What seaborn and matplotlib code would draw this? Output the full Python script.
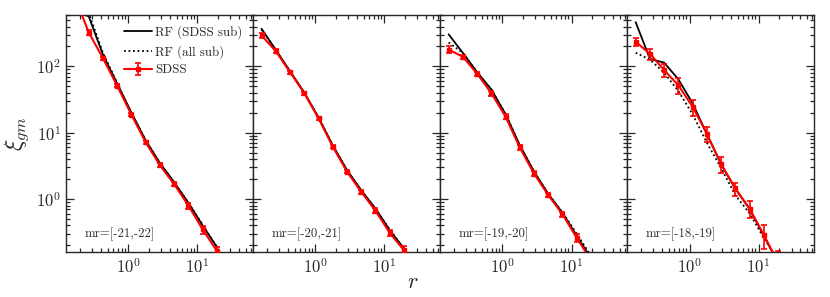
import numpy as np
import matplotlib
matplotlib.use("Agg")
import matplotlib.pyplot as plt
import seaborn as sns

# radial bins
r = [0.166, 0.267, 0.429, 0.69, 1.11, 1.78, 2.86, 4.6, 7.4, 11.9, 19.1]

labels = ["mr=[-21,-22]", "mr=[-20,-21]", "mr=[-19,-20]", "mr=[-18,-19]"]

sdss = [
    [1150, 325, 133, 51, 18.7, 7.2, 3.25, 1.68, 0.80, 0.35, 0.166],
    [293, 170, 82, 39.5, 16.5, 6.2, 2.6, 1.29, 0.67, 0.31, 0.17],
    [180, 140, 78, 39.5, 17.5, 6.0, 2.43, 1.15, 0.59, 0.26, 0.12],
    [236, 155, 88, 52, 24.6, 9.7, 3.4, 1.45, 0.72, 0.29, 0.11],
]
# relative errors
sdss_err = [
    [0.10, 0.09, 0.06, 0.05, 0.05, 0.05, 0.06, 0.07, 0.10, 0.14, 0.15],
    [0.08, 0.06, 0.05, 0.05, 0.05, 0.05, 0.05, 0.06, 0.08, 0.12, 0.14],
    [0.12, 0.08, 0.07, 0.08, 0.08, 0.08, 0.08, 0.08, 0.10, 0.14, 0.18],
    [0.15, 0.19, 0.22, 0.27, 0.28, 0.26, 0.28, 0.22, 0.29, 0.40, 0.50],
]
rf_sdss_sub = [
    [680, 570, 150, 55, 20, 7.7, 3.5, 1.8, 0.88, 0.40, 0.19],
    [370, 178, 85, 40.5, 17, 6.5, 2.75, 1.36, 0.72, 0.34, 0.18],
    [305, 160, 82, 45, 19, 6.5, 2.6, 1.2, 0.62, 0.28, 0.13],
    [465, 130, 114, 64, 27.7, 9.6, 3.35, 1.43, 0.71, 0.28, 0.11],
]
rf_all_sub = [
    [720, 640, 160, 56, 20, 7.7, 3.5, 1.8, 0.88, 0.41, 0.19],
    [360, 176, 84, 40, 17, 6.5, 2.75, 1.36, 0.72, 0.35, 0.18],
    [230, 160, 82, 45, 19, 6.5, 2.6, 1.2, 0.63, 0.30, 0.14],
    [161, 127, 80, 42.5, 18.9, 7.1, 2.95, 1.15, 0.61, 0.26, 0.12],
]

sns.set_style("ticks")
plt.rcParams["font.family"] = ["cmr10", "DejaVu Serif"]
plt.rcParams["mathtext.fontset"] = "cm"
plt.rcParams["axes.formatter.use_mathtext"] = True
plt.rcParams["axes.unicode_minus"] = False

fig, axes = plt.subplots(1, 4, figsize=(8.3, 2.97), dpi=100, sharey=True)
fig.subplots_adjust(left=0.0795, right=0.981, top=0.95, bottom=0.152, wspace=0)

for i, ax in enumerate(axes):
    sns.lineplot(x=r, y=rf_sdss_sub[i], ax=ax, color="black", lw=1.3,
                 label="RF (SDSS sub)", zorder=2)
    sns.lineplot(x=r, y=rf_all_sub[i], ax=ax, color="black", lw=1.3,
                 linestyle=(0, (1, 1.5)), label="RF (all sub)", zorder=2)
    y = np.array(sdss[i])
    yerr = y * np.array(sdss_err[i])
    ax.errorbar(r, y, yerr=yerr, color="red", lw=1.5, marker="s", ms=3,
                capsize=2.5, elinewidth=1.2, capthick=1.2, label="SDSS", zorder=3)
    ax.set_xscale("log")
    ax.set_yscale("log")
    ax.set_xlim(0.125, 64)
    ax.set_ylim(0.16, 600)
    ax.tick_params(which="both", direction="in", top=True, right=True,
                   labelsize=12, width=0.9)
    ax.tick_params(which="major", length=6)
    ax.tick_params(which="minor", length=3)
    for s in ax.spines.values():
        s.set_linewidth(1.0)
    ax.text(0.1, 0.06, labels[i], transform=ax.transAxes, fontsize=9.3,
            color="#333333")
    if i == 0:
        ax.legend(loc="upper right", frameon=False, fontsize=9.3,
                  handlelength=2.1, borderaxespad=0.4, labelspacing=0.45,
                  handletextpad=0.3)
    else:
        if ax.get_legend():
            ax.get_legend().remove()
        ax.tick_params(labelleft=False)

axes[0].set_ylabel(r"$\xi_{gm}$", fontsize=17)
fig.text(0.497, 0.03, r"$r$", fontsize=16, ha="center")

plt.savefig("out.png", dpi=100)
